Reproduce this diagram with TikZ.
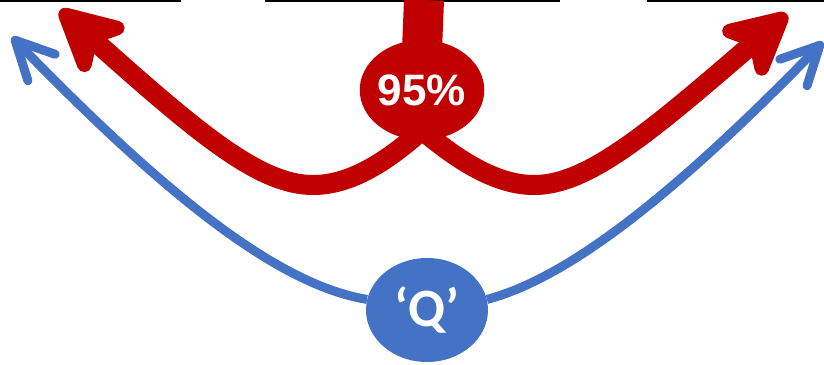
\documentclass[tikz,border=0pt]{standalone}
\usepackage{fontspec}
\setmainfont{Liberation Sans}
\newfontfamily\qfont{Carlito}
\usetikzlibrary{arrows.meta,shapes.geometric}
\definecolor{darkred}{HTML}{C00000}
\definecolor{qblue}{HTML}{4472C4}

\begin{document}
\begin{tikzpicture}[x=1pt, y=-1pt,
  bubble/.style={ellipse, inner sep=0pt, text=white},
  redarrow/.style={draw=darkred, line width=20pt, -{Stealth[length=80pt, width=82pt, inset=22pt, round]}},
  bluearrow/.style={draw=qblue, line width=9pt, -{Straight Barb[length=38pt, width=38pt, round]}},
  topline/.style={draw=black, line width=3pt}]
  \useasboundingbox (0,0) rectangle (824,364);
  % rules along the top edge
  \draw[topline] (0,0) -- (181,0);
  \draw[topline] (265,0) -- (560,0);
  \draw[topline] (647,0) -- (824,0);

  \node[bubble, fill=darkred, minimum width=124pt, minimum height=100pt,
        font=\bfseries\fontsize{44}{44}\selectfont] (pct) at (422,90) {95\%};
  \node[bubble, fill=qblue, minimum width=122pt, minimum height=104pt,
        font=\qfont\bfseries\fontsize{54}{54}\selectfont] (q) at (427,310) {‘Q’};

  \coordinate (top)   at (424,0);
  \coordinate (redL)  at (60,10);
  \coordinate (redR)  at (787,14);
  \coordinate (blueL) at (12,37);
  \coordinate (blueR) at (823,42);

  % stem into the red bubble
  \draw[darkred, line width=40pt] ([yshift=-10pt]pct.north) -- (top);
  % red arrows
  \draw[redarrow] ([yshift=10pt]pct.south) .. controls (380,168) and (345,185) .. (313,185)
        .. controls (260,185) and (200,135) .. (redL);
  \draw[redarrow] ([yshift=10pt]pct.south) .. controls (467,168) and (502,185) .. (534,185)
        .. controls (587,185) and (647,135) .. (redR);
  % blue arrows
  \draw[bluearrow] (q.170) .. controls (280,285) and (170,200) .. (blueL);
  \draw[bluearrow] (q.10) .. controls (560,280) and (660,210) .. (blueR);
\end{tikzpicture}
\end{document}
